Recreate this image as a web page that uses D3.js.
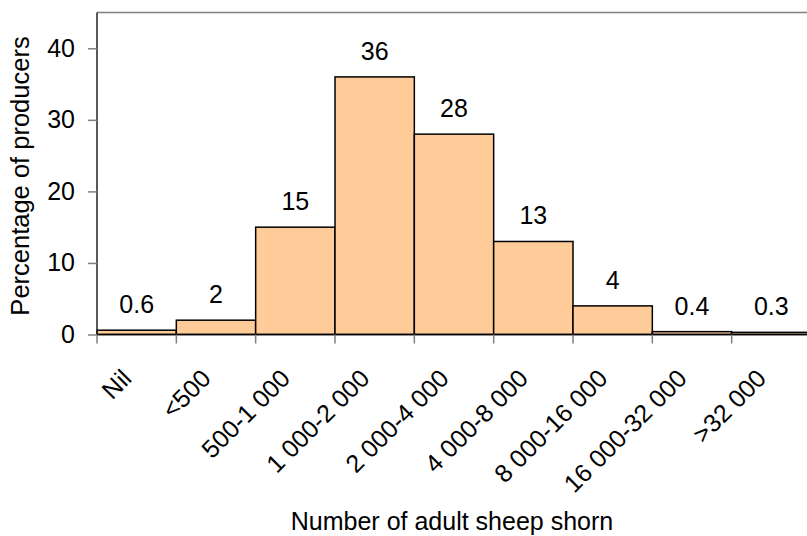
<!DOCTYPE html>
<html>
<head>
<meta charset="utf-8">
<script src="https://cdn.jsdelivr.net/npm/d3@7"></script>
<style>
  html, body { margin: 0; padding: 0; background: #fff; }
  svg { display: block; font-family: "Liberation Sans", Arial, sans-serif; }
</style>
</head>
<body>
<svg id="chart" width="807" height="536"></svg>
<script>
// Flock size classes and share of producers in each
const categories = ["Nil", "<500", "500-1 000", "1 000-2 000", "2 000-4 000",
                    "4 000-8 000", "8 000-16 000", "16 000-32 000", ">32 000"];
const percentages = [0.6, 2, 15, 36, 28, 13, 4, 0.4, 0.3];
const valueLabels = ["0.6", "2", "15", "36", "28", "13", "4", "0.4", "0.3"];
const yTickValues = [0, 10, 20, 30, 40];

const svg = d3.select("#chart");
const fontSize = 25;

const x = d3.scaleBand().domain(categories).range([97, 811]).padding(0);
const y = d3.scaleLinear().domain([0, 45]).range([334.5, 12.5]);

// top border of plot area
svg.append("line")
  .attr("x1", x.range()[0]).attr("x2", x.range()[1])
  .attr("y1", y(45)).attr("y2", y(45))
  .attr("stroke", "#808080").attr("stroke-width", 1.5);

// bars
svg.append("g").selectAll("rect")
  .data(categories)
  .join("rect")
  .attr("x", d => x(d))
  .attr("width", x.bandwidth())
  .attr("y", (d, i) => y(percentages[i]))
  .attr("height", (d, i) => y(0) - y(percentages[i]))
  .attr("fill", "#FFCC99")
  .attr("stroke", "#000")
  .attr("stroke-width", 1.5);

// baseline
svg.append("line")
  .attr("x1", x.range()[0]).attr("x2", x.range()[1])
  .attr("y1", y(0)).attr("y2", y(0))
  .attr("stroke", "#000").attr("stroke-width", 1.5);

// value labels above bars
svg.append("g").selectAll("text")
  .data(categories)
  .join("text")
  .attr("x", d => x(d) + x.bandwidth() / 2)
  .attr("y", (d, i) => y(percentages[i]) - 17)
  .attr("text-anchor", "middle")
  .attr("font-size", fontSize)
  .attr("fill", "#000")
  .text((d, i) => valueLabels[i]);

// y axis
const yAxis = svg.append("g")
  .attr("transform", `translate(${x.range()[0]},0)`)
  .call(d3.axisLeft(y).tickValues(yTickValues).tickSize(9).tickPadding(13).tickFormat(d3.format("d")));
yAxis.select(".domain").attr("stroke", "#222").attr("stroke-width", 1.5)
  .attr("d", `M0,${y(45)}V${y(0)}`);
yAxis.selectAll(".tick line").attr("stroke", "#808080").attr("stroke-width", 1.5);
yAxis.selectAll(".tick text")
  .attr("font-size", fontSize)
  .attr("font-family", "Liberation Sans, Arial, sans-serif")
  .attr("fill", "#000");

// x tick marks at class boundaries
const boundaries = categories.map(c => x(c)).concat([x.range()[1]]);
svg.append("g").selectAll("line")
  .data(boundaries)
  .join("line")
  .attr("x1", d => d).attr("x2", d => d)
  .attr("y1", y(0)).attr("y2", y(0) + 9)
  .attr("stroke", "#808080").attr("stroke-width", 1.5);

// rotated category labels
svg.append("g").selectAll("text")
  .data(categories)
  .join("text")
  .attr("text-anchor", "end")
  .attr("font-size", fontSize)
  .attr("fill", "#000")
  .attr("transform", d => `translate(${x(d) + 36},380) rotate(-45)`)
  .text(d => d);

// axis titles
svg.append("text")
  .attr("x", 452).attr("y", 530)
  .attr("text-anchor", "middle")
  .attr("font-size", fontSize)
  .attr("fill", "#000")
  .text("Number of adult sheep shorn");

svg.append("text")
  .attr("transform", `translate(29,176) rotate(-90)`)
  .attr("text-anchor", "middle")
  .attr("font-size", 25.5)
  .attr("fill", "#000")
  .text("Percentage of producers");
</script>
</body>
</html>
